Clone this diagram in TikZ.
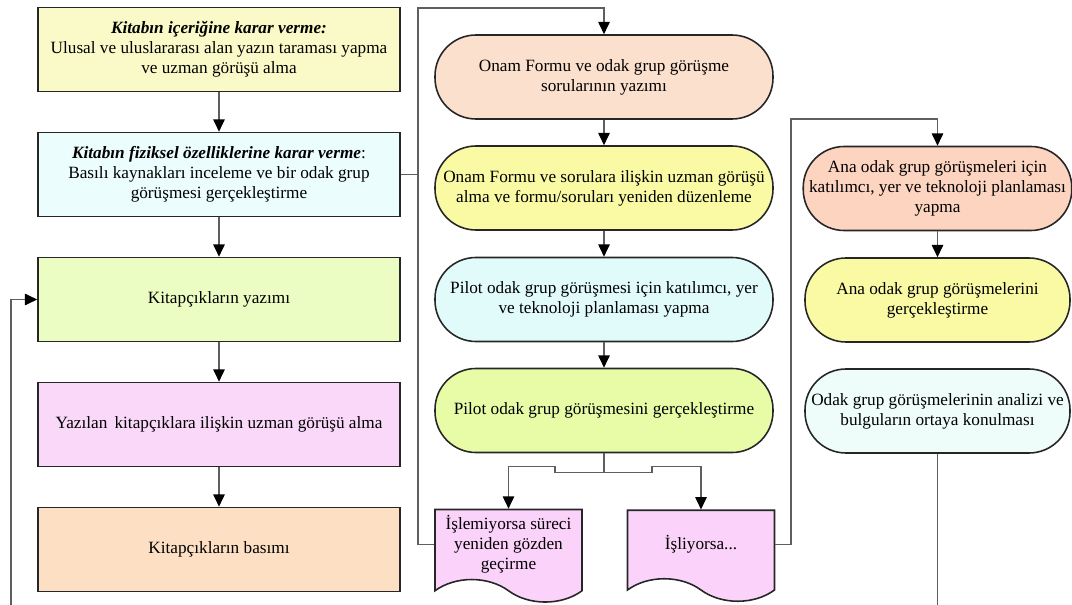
\documentclass[tikz,border=0pt]{standalone}
\usepackage{fontspec}
\setmainfont{Liberation Serif}
\definecolor{cyellow}{RGB}{250,250,200}
\definecolor{ccyan}{RGB}{236,253,253}
\definecolor{cgreen}{RGB}{235,253,195}
\definecolor{cpink}{RGB}{250,216,250}
\definecolor{cpeach}{RGB}{253,224,196}
\definecolor{rpeach}{RGB}{252,224,206}
\definecolor{ryellow}{RGB}{250,250,165}
\definecolor{rcyan}{RGB}{225,251,251}
\definecolor{rgreen}{RGB}{232,252,168}
\definecolor{rsalmon}{RGB}{252,212,192}
\definecolor{rlight}{RGB}{238,253,250}
\definecolor{docpink}{RGB}{250,210,250}
\definecolor{linegray}{RGB}{95,95,95}
\usetikzlibrary{arrows.meta,positioning,shapes.symbols}

\begin{document}
\begin{tikzpicture}[
    every node/.style={draw=black!85,line width=0.9pt,align=center,
      font=\fontsize{9.8pt}{11.5pt}\selectfont},
    boxnode/.style={rectangle,minimum width=7.24cm,minimum height=1.68cm},
    roundnode/.style={rectangle,rounded corners=0.82cm,minimum width=6.76cm,minimum height=1.68cm},
    rightnode/.style={rectangle,rounded corners=0.82cm,minimum width=5.3cm,minimum height=1.68cm},
    docnode/.style={tape,tape bend top=none,tape bend bottom=out and in,
      tape bend height=0.45cm,minimum width=2.94cm,minimum height=1.82cm,fill=docpink},
    line/.style={draw=linegray,line width=0.8pt},
    arrow/.style={line,-{Triangle[color=black,length=7pt,width=6.5pt]}},
    node distance=2.5cm
    ]
    \useasboundingbox (0,0) rectangle (21.44,-12.1);

    % left column
    \node (icerik) [boxnode,fill=cyellow] at (4.38,-0.99)
      {\textbf{\textit{Kitabın içeriğine karar verme:}}\\
       Ulusal ve uluslararası alan yazın taraması yapma\\ ve uzman görüşü alma};
    \node (fizik) [boxnode,fill=ccyan,below of=icerik]
      {\textbf{\textit{Kitabın fiziksel özelliklerine karar verme}}:\\
       Basılı kaynakları inceleme ve bir odak grup\\ görüşmesi gerçekleştirme};
    \node (yazim) [boxnode,fill=cgreen,below of=fizik] {Kitapçıkların yazımı};
    \node (gorus) [boxnode,fill=cpink,below of=yazim] {Yazılan\, kitapçıklara ilişkin uzman görüşü alma};
    \node (basim) [boxnode,fill=cpeach,below of=gorus] {Kitapçıkların basımı};

    % middle column
    \node (onam) [roundnode,fill=rpeach] at (12.08,-1.54)
      {Onam Formu ve odak grup görüşme\\ sorularının yazımı};
    \node (duzen) [roundnode,fill=ryellow,below of=onam,node distance=2.22cm]
      {Onam Formu ve sorulara ilişkin uzman görüşü\\ alma ve formu/soruları yeniden düzenleme};
    \node (pplan) [roundnode,fill=rcyan,below of=duzen,node distance=2.23cm]
      {Pilot odak grup görüşmesi için katılımcı, yer\\ ve teknoloji planlaması yapma};
    \node (pilot) [roundnode,fill=rgreen,below of=pplan,node distance=2.22cm]
      {Pilot odak grup görüşmesini gerçekleştirme};
    \node (hayir) [docnode] at (10.17,-10.89)
      {İşlemiyorsa süreci\\ yeniden gözden\\ geçirme};
    \node (evet) [docnode] at (14.02,-10.89) {İşliyorsa...};

    % right column
    \node (aplan) [rightnode,fill=rsalmon] at (18.75,-3.77)
      {Ana odak grup görüşmeleri için\\ katılımcı, yer ve teknoloji planlaması\\ yapma};
    \node (ana) [rightnode,fill=ryellow,below of=aplan,node distance=2.23cm]
      {Ana odak grup görüşmelerini\\ gerçekleştirme};
    \node (analiz) [rightnode,fill=rlight,below of=ana,node distance=2.22cm]
      {Odak grup görüşmelerinin analizi ve\\ bulguların ortaya konulması};

    \coordinate (geri) at (0.22,-12.1);
    \coordinate (ust) at (8.36,-0.16);
    \coordinate (sag) at (15.82,-2.38);

    % the edges
    \draw[arrow] (icerik) -- (fizik);
    \draw[arrow] (fizik) -- (yazim);
    \draw[arrow] (yazim) -- (gorus);
    \draw[arrow] (gorus) -- (basim);
    \draw[arrow] (geri) |- (yazim.west);
    \draw[line] (fizik.east) -- (fizik.east -| ust);
    \draw[arrow] (hayir.west) -| (ust) -| (onam.north);
    \draw[arrow] (onam) -- (duzen);
    \draw[arrow] (duzen) -- (pplan);
    \draw[arrow] (pplan) -- (pilot);
    \draw[line] (pilot.south) -- ++(0,-0.38) coordinate (dal);
    \draw[arrow] (dal) -- ++(-0.98,0) -- ++(0,0.12) -| (hayir.north);
    \draw[arrow] (dal) -- ++(0.96,0) -- ++(0,0.12) -| (evet.north);
    \draw[arrow] (evet.east) -| (sag) -| (aplan.north);
    \draw[arrow] (aplan) -- (ana);
    \draw[line] (analiz.south) -- (analiz.south |- geri);
\end{tikzpicture}
\end{document}
